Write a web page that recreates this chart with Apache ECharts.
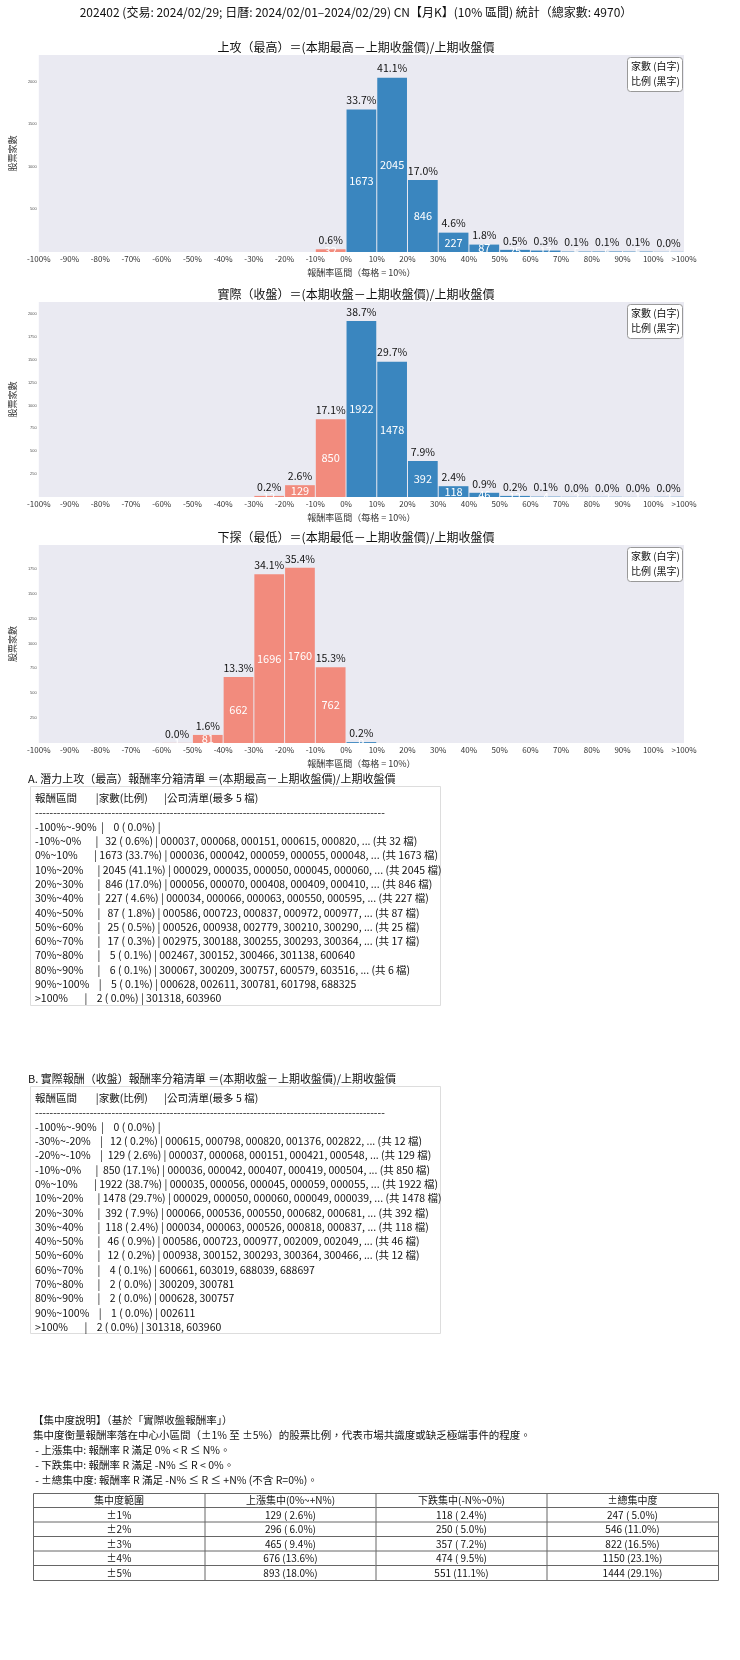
<!DOCTYPE html>
<html>
<head>
<meta charset="utf-8">
<script src="https://cdn.jsdelivr.net/npm/echarts@6/dist/echarts.min.js"></script>
<style>html,body{margin:0;padding:0;background:#fff}#main{width:740px;height:1660px}</style>
</head>
<body>
<div id="main"></div>
<script>
var FONT = '"Noto Sans CJK TC","Noto Sans",sans-serif';
var TOTAL = 4970;
var edgeLabels = ['-100%','-90%','-80%','-70%','-60%','-50%','-40%','-30%','-20%','-10%','0%','10%','20%','30%','40%','50%','60%','70%','80%','90%','100%','>100%'];
// 21 bins: -100~-90 ... 90~100, >100
var highCounts = [0,0,0,0,0,0,0,0,0,32,1673,2045,846,227,87,25,17,5,6,5,2];
var closeCounts = [0,0,0,0,0,0,0,12,129,850,1922,1478,392,118,46,12,4,2,2,1,2];
var lowCounts = [0,0,0,0,1,81,662,1696,1760,762,9,0,0,0,0,0,0,0,0,0,0];
var chartTitles = [
  '上攻（最高）＝(本期最高－上期收盤價)/上期收盤價',
  '實際（收盤）＝(本期收盤－上期收盤價)/上期收盤價',
  '下探（最低）＝(本期最低－上期收盤價)/上期收盤價'
];
var yMax = [2311, 2130, 1989];
var yInterval = [500, 250, 250];

var tableA = [
  '報酬區間        |家數(比例)       |公司清單(最多 5 檔)',
  '------------------------------------------------------------------------------------------------',
  '-100%~-90%  |    0 ( 0.0%) |',
  '-10%~0%      |   32 ( 0.6%) | 000037, 000068, 000151, 000615, 000820, ... (共 32 檔)',
  '0%~10%       | 1673 (33.7%) | 000036, 000042, 000059, 000055, 000048, ... (共 1673 檔)',
  '10%~20%      | 2045 (41.1%) | 000029, 000035, 000050, 000045, 000060, ... (共 2045 檔)',
  '20%~30%      |  846 (17.0%) | 000056, 000070, 000408, 000409, 000410, ... (共 846 檔)',
  '30%~40%      |  227 ( 4.6%) | 000034, 000066, 000063, 000550, 000595, ... (共 227 檔)',
  '40%~50%      |   87 ( 1.8%) | 000586, 000723, 000837, 000972, 000977, ... (共 87 檔)',
  '50%~60%      |   25 ( 0.5%) | 000526, 000938, 002779, 300210, 300290, ... (共 25 檔)',
  '60%~70%      |   17 ( 0.3%) | 002975, 300188, 300255, 300293, 300364, ... (共 17 檔)',
  '70%~80%      |    5 ( 0.1%) | 002467, 300152, 300466, 301138, 600640',
  '80%~90%      |    6 ( 0.1%) | 300067, 300209, 300757, 600579, 603516, ... (共 6 檔)',
  '90%~100%    |    5 ( 0.1%) | 000628, 002611, 300781, 601798, 688325',
  '>100%       |    2 ( 0.0%) | 301318, 603960'
];
var tableB = [
  '報酬區間        |家數(比例)       |公司清單(最多 5 檔)',
  '------------------------------------------------------------------------------------------------',
  '-100%~-90%  |    0 ( 0.0%) |',
  '-30%~-20%    |   12 ( 0.2%) | 000615, 000798, 000820, 001376, 002822, ... (共 12 檔)',
  '-20%~-10%    |  129 ( 2.6%) | 000037, 000068, 000151, 000421, 000548, ... (共 129 檔)',
  '-10%~0%      |  850 (17.1%) | 000036, 000042, 000407, 000419, 000504, ... (共 850 檔)',
  '0%~10%       | 1922 (38.7%) | 000035, 000056, 000045, 000059, 000055, ... (共 1922 檔)',
  '10%~20%      | 1478 (29.7%) | 000029, 000050, 000060, 000049, 000039, ... (共 1478 檔)',
  '20%~30%      |  392 ( 7.9%) | 000066, 000536, 000550, 000682, 000681, ... (共 392 檔)',
  '30%~40%      |  118 ( 2.4%) | 000034, 000063, 000526, 000818, 000837, ... (共 118 檔)',
  '40%~50%      |   46 ( 0.9%) | 000586, 000723, 000977, 002009, 002049, ... (共 46 檔)',
  '50%~60%      |   12 ( 0.2%) | 000938, 300152, 300293, 300364, 300466, ... (共 12 檔)',
  '60%~70%      |    4 ( 0.1%) | 600661, 603019, 688039, 688697',
  '70%~80%      |    2 ( 0.0%) | 300209, 300781',
  '80%~90%      |    2 ( 0.0%) | 000628, 300757',
  '90%~100%    |    1 ( 0.0%) | 002611',
  '>100%       |    2 ( 0.0%) | 301318, 603960'
];
var noteLines = [
  '【集中度說明】（基於「實際收盤報酬率」）',
  '集中度衡量報酬率落在中心小區間（±1% 至 ±5%）的股票比例，代表市場共識度或缺乏極端事件的程度。',
  ' - 上漲集中: 報酬率 R 滿足 0% < R ≤ N%。',
  ' - 下跌集中: 報酬率 R 滿足 -N% ≤ R < 0%。',
  ' - ±總集中度: 報酬率 R 滿足 -N% ≤ R ≤ +N% (不含 R=0%)。'
];
var concHeader = ['集中度範圍', '上漲集中(0%~+N%)', '下跌集中(-N%~0%)', '±總集中度'];
var concRows = [
  ['±1%', '129 ( 2.6%)', '118 ( 2.4%)', '247 ( 5.0%)'],
  ['±2%', '296 ( 6.0%)', '250 ( 5.0%)', '546 (11.0%)'],
  ['±3%', '465 ( 9.4%)', '357 ( 7.2%)', '822 (16.5%)'],
  ['±4%', '676 (13.6%)', '474 ( 9.5%)', '1150 (23.1%)'],
  ['±5%', '893 (18.0%)', '551 (11.1%)', '1444 (29.1%)']
];

var chartDom = document.getElementById('main');
var myChart = echarts.init(chartDom, null, { renderer: 'canvas' });

var gridTops = [55, 302, 545];
var gridHeights = [197, 195, 198];
var allCounts = [highCounts, closeCounts, lowCounts];

function renderBin(params, api) {
    var i = api.value(0), v = api.value(1);
    if (!v) return null;
    var p0 = api.coord([i, 0]);
    var p1 = api.coord([i + 1, v]);
    var w = p1[0] - p0[0];
    var h = p0[1] - p1[1];
    var color = i < 10 ? '#F28B7D' : '#3A86BF';
    return {
        type: 'group',
        children: [
            { type: 'rect', shape: { x: p0[0] + 0.5, y: p1[1], width: w - 1, height: h },
              style: { fill: color } },
            { type: 'text', x: p0[0] + w / 2, y: p1[1] + h / 2,
              style: { text: String(v), fill: '#fff', font: '11px ' + FONT, align: 'center', verticalAlign: 'middle' } },
            { type: 'text', x: p0[0] + w / 2, y: p1[1] - 4,
              style: { text: (v / TOTAL * 100).toFixed(1) + '%', fill: '#111', font: '10.5px ' + FONT, align: 'center', verticalAlign: 'bottom' } }
        ]
    };
}

var grids = [], xAxes = [], yAxes = [], series = [], titles = [], graphics = [];
for (var k = 0; k < 3; k++) {
    grids.push({ left: 18, width: 666, top: gridTops[k], height: gridHeights[k],
        show: true, backgroundColor: '#EAEAF2', borderWidth: 0 });
    xAxes.push({ type: 'value', gridIndex: k, min: 0, max: 21, interval: 1,
        name: '報酬率區間（每格 = 10%）', nameLocation: 'middle', nameGap: 16,
        nameTextStyle: { fontFamily: FONT, fontSize: 9, color: '#333' },
        axisLine: { show: false }, axisTick: { show: false }, splitLine: { show: false },
        axisLabel: { fontFamily: FONT, fontSize: 8, color: '#333', margin: 3,
            formatter: function (val) { return edgeLabels[val] || ''; } } });
    yAxes.push({ type: 'value', gridIndex: k, min: 0, max: yMax[k], interval: yInterval[k],
        name: '股票家數', nameLocation: 'middle', nameGap: 10, nameRotate: 90,
        nameTextStyle: { fontFamily: FONT, fontSize: 9, color: '#333' },
        axisLine: { show: false }, axisTick: { show: false }, splitLine: { show: false },
        axisLabel: { fontSize: 4, color: '#555', margin: 2, showMaxLabel: false,
            formatter: function (val) { return val === 0 ? '' : val; } } });
    series.push({ type: 'custom', xAxisIndex: k, yAxisIndex: k, renderItem: renderBin,
        data: allCounts[k].map(function (v, i) { return [i, v]; }) });
    titles.push({ text: chartTitles[k], left: 351, textAlign: 'center', top: gridTops[k] - 19,
        textStyle: { fontFamily: FONT, fontSize: 12, fontWeight: 'normal', color: '#111' } });
    graphics.push({ type: 'rect', left: 627, top: gridTops[k] + 2, shape: { width: 55, height: 34, r: 3 },
        style: { fill: '#fff', stroke: '#999', lineWidth: 1 } });
    graphics.push({ type: 'text', left: 631, top: gridTops[k] + 4,
        style: { text: '家數 (白字)\n比例 (黑字)', font: '10px ' + FONT, fill: '#111', lineHeight: 15 } });
}
titles.unshift({ text: '202402 (交易: 2024/02/29; 日曆: 2024/02/01–2024/02/29) CN【月K】(10% 區間) 統計（總家數: 4970）',
    left: 351, textAlign: 'center', top: 1,
    textStyle: { fontFamily: FONT, fontSize: 12, fontWeight: 'normal', color: '#111' } });

// tables A and B
function addListTable(title, rows, top, boxH) {
    graphics.push({ type: 'text', left: 28, top: top,
        style: { text: title, font: '11px ' + FONT, fill: '#111' } });
    graphics.push({ type: 'rect', left: 30, top: top + 13, shape: { width: 410, height: boxH },
        style: { fill: '#fff', stroke: '#ddd', lineWidth: 1 } });
    graphics.push({ type: 'text', left: 35, top: top + 18,
        style: { text: rows.join('\n'), font: '10.5px ' + FONT, fill: '#111', lineHeight: 14.3 } });
}
addListTable('A. 潛力上攻（最高）報酬率分箱清單 ＝(本期最高－上期收盤價)/上期收盤價', tableA, 773, 219);
addListTable('B. 實際報酬（收盤）報酬率分箱清單 ＝(本期收盤－上期收盤價)/上期收盤價', tableB, 1073, 247);

graphics.push({ type: 'text', left: 33, top: 1413,
    style: { text: noteLines.join('\n'), font: '10.5px ' + FONT, fill: '#111', lineHeight: 15 } });

// concentration table
var colX = [33, 205, 376, 547, 718];
var rowTop = 1493, rowH = 14.5;
var allRows = [concHeader].concat(concRows);
graphics.push({ type: 'rect', left: colX[0], top: rowTop, shape: { width: colX[4] - colX[0], height: rowH * allRows.length },
    style: { fill: '#fff', stroke: '#666', lineWidth: 1 } });
for (var r = 0; r < allRows.length; r++) {
    if (r > 0) graphics.push({ type: 'line', shape: { x1: colX[0], y1: rowTop + r * rowH, x2: colX[4], y2: rowTop + r * rowH },
        style: { stroke: '#666', lineWidth: 1 } });
    for (var c = 0; c < 4; c++) {
        graphics.push({ type: 'text', x: (colX[c] + colX[c + 1]) / 2, y: rowTop + r * rowH + rowH / 2,
            style: { text: allRows[r][c], font: '10px ' + FONT, fill: '#111', align: 'center', verticalAlign: 'middle' } });
    }
}
for (var c2 = 1; c2 < 4; c2++) {
    graphics.push({ type: 'line', shape: { x1: colX[c2], y1: rowTop, x2: colX[c2], y2: rowTop + rowH * allRows.length },
        style: { stroke: '#666', lineWidth: 1 } });
}

var option = {
    backgroundColor: '#fff',
    animation: false,
    title: titles,
    grid: grids,
    xAxis: xAxes,
    yAxis: yAxes,
    series: series,
    graphic: graphics
};
option && myChart.setOption(option);
</script>
</body>
</html>
